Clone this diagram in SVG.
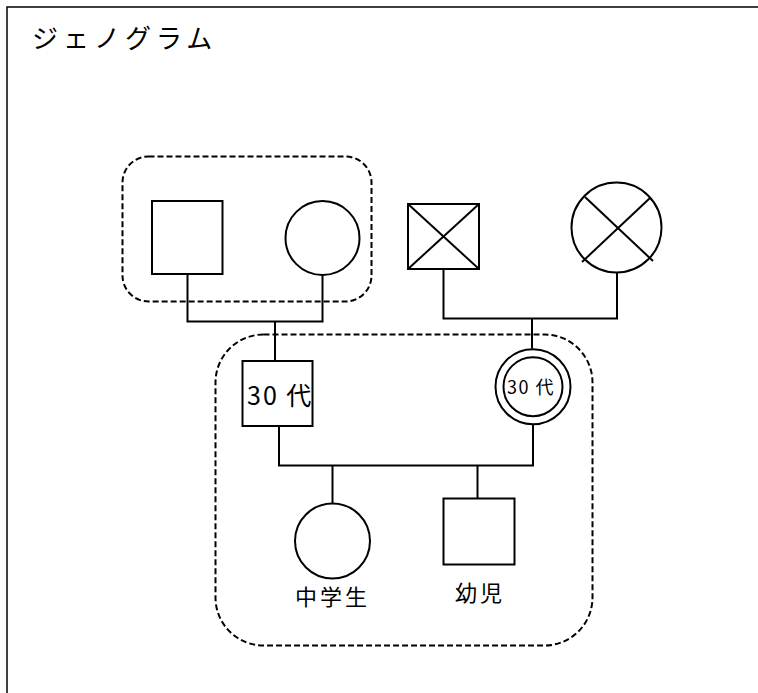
<svg xmlns="http://www.w3.org/2000/svg" width="758" height="693" viewBox="0 0 758 693">
<style>
.s{fill:none;stroke:#000;stroke-width:2}
.d{fill:none;stroke:#000;stroke-width:2;stroke-dasharray:6 3}
.t{font-family:"Noto Sans CJK JP","Noto Sans",sans-serif;fill:#000}
</style>
<rect x="0" y="0" width="758" height="693" fill="#fff"/>
<rect x="7" y="7" width="770" height="710" fill="none" stroke="#000" stroke-width="1.5"/>
<text class="t" x="32" y="48" font-size="26" letter-spacing="5">ジェノグラム</text>
<g id="household-grandparents"><rect class="d" x="122.5" y="156.5" width="249" height="145" rx="26"/></g>
<g id="household-family"><rect class="d" x="215.5" y="334.5" width="377" height="311" rx="48"/></g>
<g id="connectors">
<polyline class="s" points="187.5,274 187.5,321.5 322.5,321.5 322.5,275"/>
<line class="s" x1="275" y1="321.5" x2="275" y2="361"/>
<polyline class="s" points="443.5,269 443.5,318.5 617,318.5 617,272"/>
<line class="s" x1="532" y1="318.5" x2="532" y2="348.5"/>
<polyline class="s" points="279,426 279,465.5 533,465.5 533,425"/>
<line class="s" x1="332.5" y1="465.5" x2="332.5" y2="503"/>
<line class="s" x1="477.5" y1="465.5" x2="477.5" y2="498.5"/>
</g>
<g id="grandfather-p"><rect class="s" x="152" y="201" width="70.5" height="73"/></g>
<g id="grandmother-p"><circle class="s" cx="322.5" cy="238" r="37"/></g>
<g id="grandfather-m"><rect class="s" x="408" y="204" width="71" height="65"/><line class="s" x1="408" y1="204" x2="479" y2="269"/><line class="s" x1="479" y1="204" x2="408" y2="269"/></g>
<g id="grandmother-m"><circle class="s" cx="616.5" cy="227.5" r="45"/><line class="s" x1="585" y1="197" x2="653" y2="261"/><line class="s" x1="650" y1="198" x2="582" y2="262"/></g>
<g id="father"><rect class="s" x="242.5" y="361" width="70" height="65"/><text class="t" x="247" y="405" font-size="25" letter-spacing="2">30 代</text></g>
<g id="mother"><circle class="s" cx="533" cy="386.7" r="37.5"/><circle class="s" cx="533" cy="386.7" r="29.5"/><text class="t" x="507" y="394" font-size="18" letter-spacing="1.5">30 代</text></g>
<g id="daughter"><circle class="s" cx="332.5" cy="541" r="37.5"/><text class="t" x="295" y="605" font-size="22" letter-spacing="3">中学生</text></g>
<g id="son"><rect class="s" x="443.5" y="498.5" width="71" height="66"/><text class="t" x="455" y="601" font-size="22" letter-spacing="3">幼児</text></g>
</svg>
